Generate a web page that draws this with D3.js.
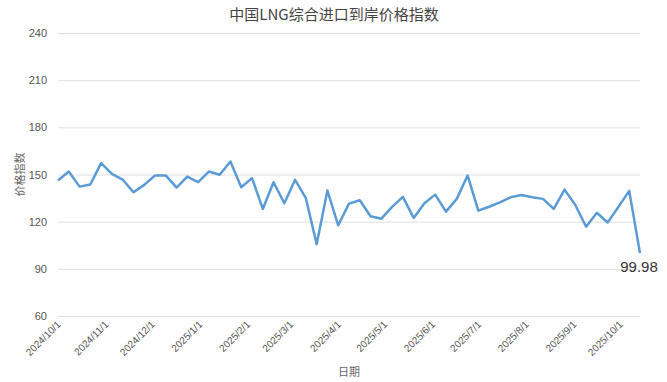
<!DOCTYPE html>
<html><head><meta charset="utf-8">
<script src="https://cdn.jsdelivr.net/npm/d3@7"></script>
<style>
html,body{margin:0;padding:0;background:#fff;}
svg{display:block;font-family:"Liberation Sans",Arial,sans-serif;}
</style></head>
<body><svg id="c" width="667" height="382"></svg>
<script>
const title = "中国LNG综合进口到岸价格指数";
const yTitle = "价格指数";
const xTitle = "日期";
const startDate = "2024-10-01";
const values = [146.2,151.9,142.3,143.6,157.2,150.4,146.8,138.7,143.4,149.4,
  149.4,141.7,148.7,145.1,151.9,149.8,158.3,141.9,147.7,128.1,
  145.1,131.7,146.6,134.9,105.7,139.8,117.7,131.5,133.6,123.4,
  121.9,129.4,135.8,122.4,131.7,137.2,126.4,134.5,149.4,127.0,
  129.5,132.3,135.5,137.0,135.5,134.5,128.1,140.4,130.6,116.8,
  125.7,119.5,129.4,139.6,99.98];
const yTicks = [60,90,120,150,180,210,240];
const lastLabel = "99.98";

const parse = d3.timeParse("%Y-%m-%d");
const t0 = parse(startDate);
const data = values.map((v,i)=>({date:d3.timeDay.offset(t0, i*7), value:v}));

const svg = d3.select("#c");
const m = {left:58, right:27, top:33, bottom:66};
const W = 667, H = 382;
const x = d3.scaleTime().domain(d3.extent(data,d=>d.date)).range([m.left, W-m.right]);
const y = d3.scaleLinear().domain([60,240]).range([H-m.bottom, m.top]);

// grid + y labels
const ya = svg.append("g").attr("transform",`translate(${m.left},0)`)
  .call(d3.axisLeft(y).tickValues(yTicks).tickSize(-(W-m.left-m.right)).tickPadding(11));
ya.select(".domain").remove();
ya.selectAll(".tick line").attr("stroke","#e0e0e0").attr("stroke-width",1);
ya.selectAll(".tick text").attr("fill","#555").style("font-size","11px");

// x labels
const months = d3.timeMonth.range(t0, d3.timeDay.offset(x.domain()[1],1));
const xa = svg.append("g").attr("transform",`translate(0,${H-m.bottom})`)
  .call(d3.axisBottom(x).tickValues(months).tickFormat(d3.timeFormat("%Y/%-m/%-d")).tickSize(0).tickPadding(0));
xa.select(".domain").remove();
xa.selectAll(".tick text").attr("fill","#555").style("font-size","10px")
  .attr("text-anchor","end").attr("dy","0").attr("transform","translate(3,9) rotate(-45)");

// line
svg.append("path").datum(data)
  .attr("fill","none").attr("stroke","#5b9bd5").attr("stroke-width",2.5)
  .attr("stroke-linejoin","round")
  .attr("d", d3.line().x(d=>x(d.date)).y(d=>y(d.value)));

// last label
const last = data[data.length-1];
svg.append("text").attr("x", x(last.date)-1).attr("y", y(last.value)+19)
  .attr("text-anchor","middle").attr("fill","#333").style("font-size","15px").text(lastLabel);

// titles
svg.append("text").attr("x",334).attr("y",20).attr("text-anchor","middle")
  .attr("fill","#444").style("font-family","'Noto Sans CJK SC',sans-serif").style("font-size","15px").text(title);
svg.append("text").attr("transform",`translate(24,${(m.top+H-m.bottom)/2}) rotate(-90)`)
  .attr("text-anchor","middle").attr("fill","#666").style("font-family","'Noto Sans CJK SC',sans-serif").style("font-size","11px").text(yTitle);
svg.append("text").attr("x",(m.left+W-m.right)/2).attr("y",376).attr("text-anchor","middle")
  .attr("fill","#666").style("font-family","'Noto Sans CJK SC',sans-serif").style("font-size","11px").text(xTitle);
</script></body></html>
